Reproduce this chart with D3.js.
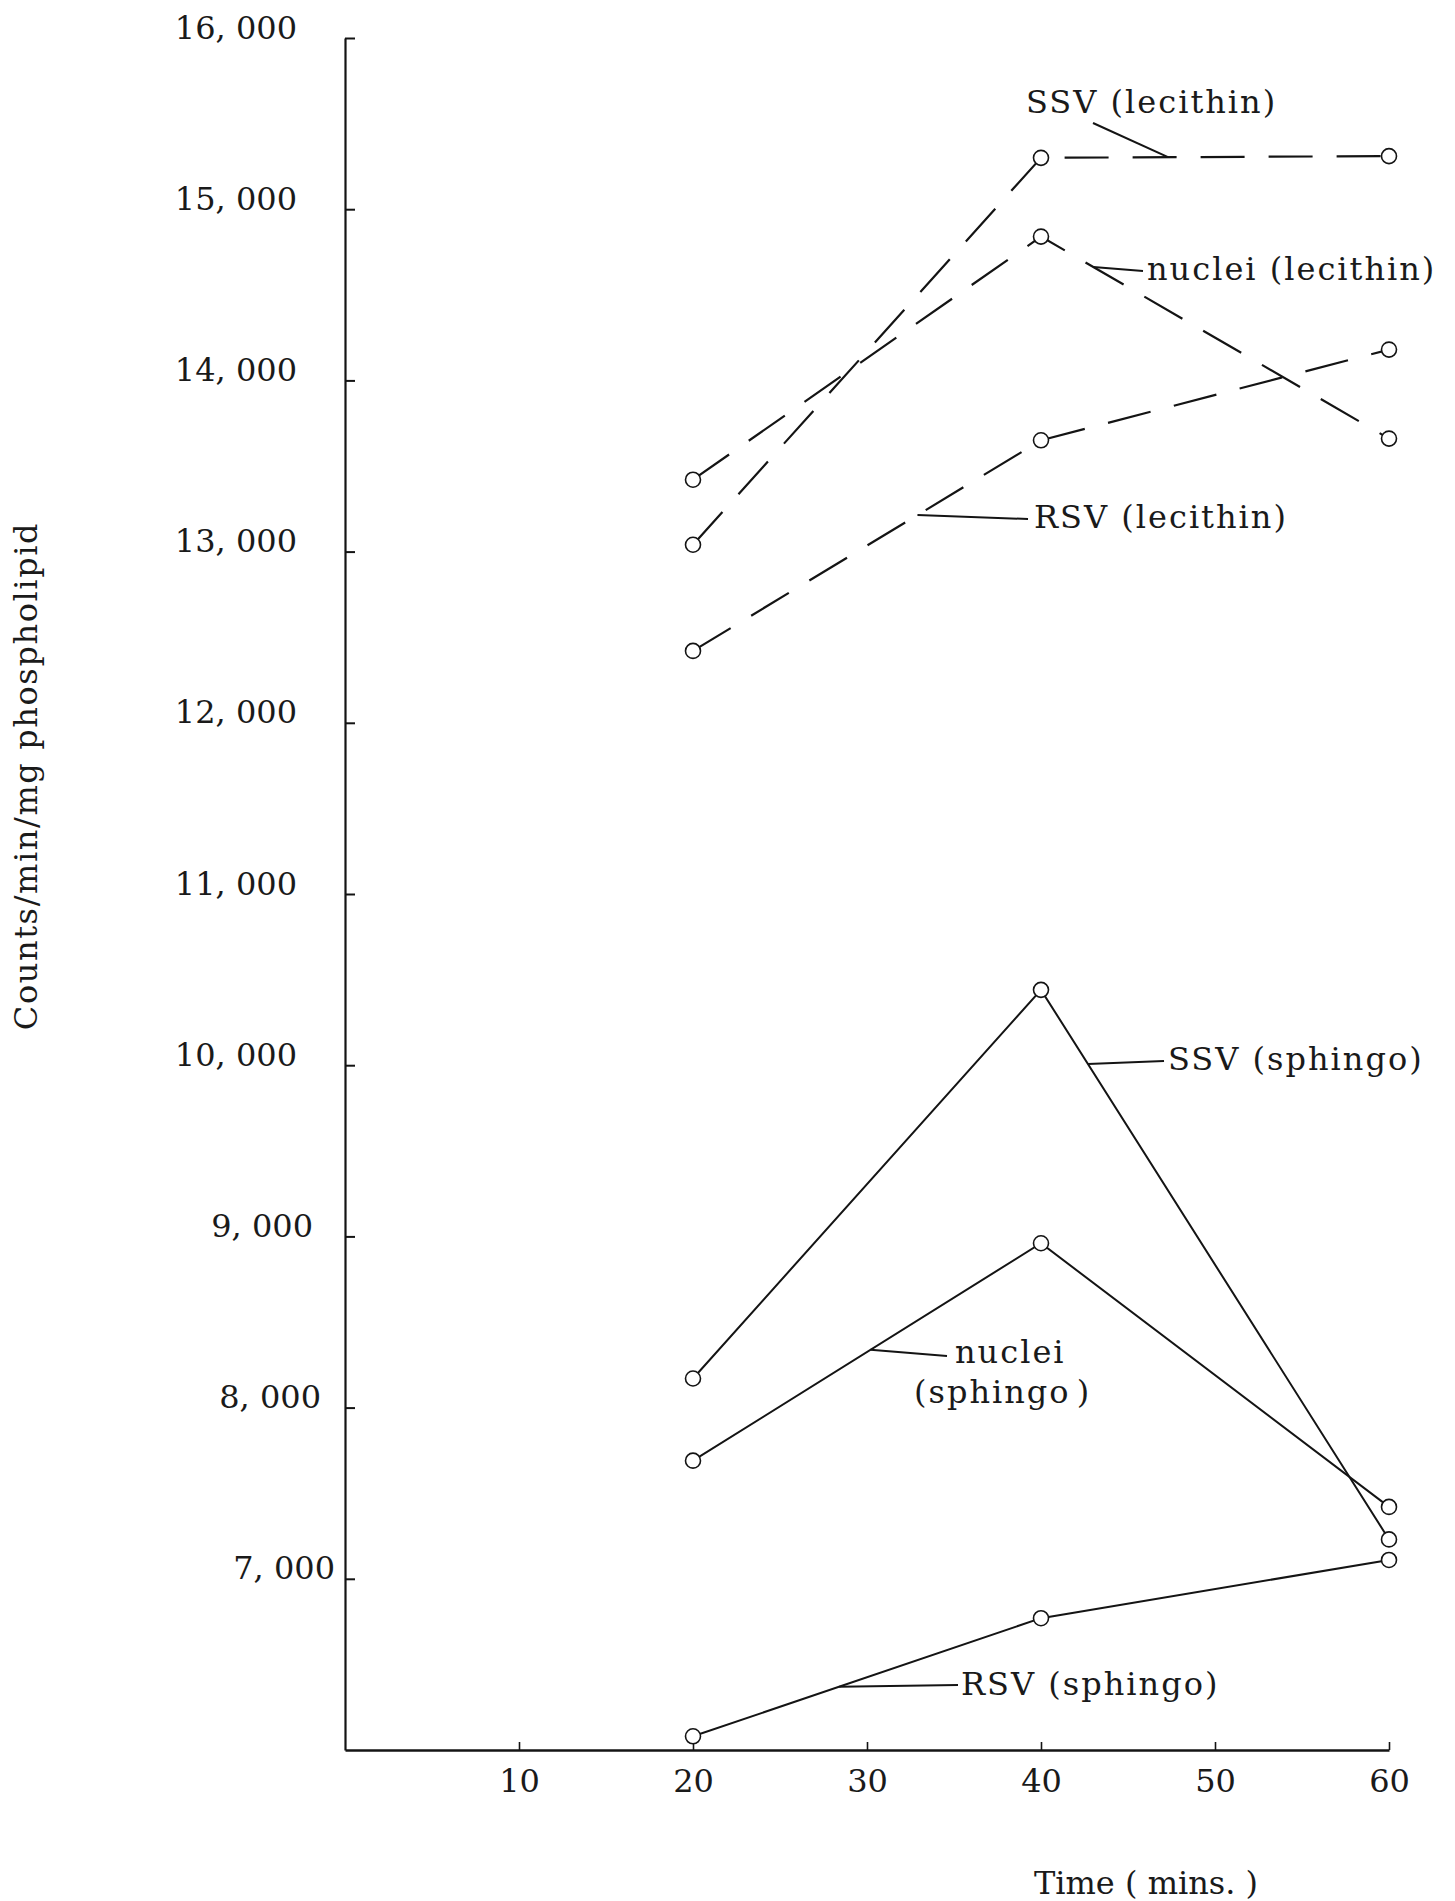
<!DOCTYPE html>
<html>
<head>
<meta charset="utf-8">
<script src="https://cdn.jsdelivr.net/npm/d3@7/dist/d3.min.js"></script>
<style>
  html, body { margin: 0; padding: 0; background: #fff; }
  svg { display: block; }
  .tick text { font-family: "DejaVu Serif", serif; font-size: 32px; fill: #1a1a1a; }
  .note { font-family: "DejaVu Serif", serif; font-size: 32px; letter-spacing: 2px; fill: #1a1a1a; }
  .title { font-family: "DejaVu Serif", serif; font-size: 32px; fill: #1a1a1a; }
</style>
</head>
<body>
<script>
// Sampling times (minutes)
const times = [20, 40, 60];

// Counts/min/mg phospholipid for each fraction
const ssvLecithin    = [13040, 15300, 15310];
const nucleiLecithin = [13420, 14840, 13660];
const rsvLecithin    = [12420, 13650, 14180];
const ssvSphingo     = [8170, 10440, 7230];
const nucleiSphingo  = [7690, 8960, 7420];
const rsvSphingo     = [6080, 6770, 7110];

// Axis ticks
const xTicks = [10, 20, 30, 40, 50, 60];
const yTicks = [7000, 8000, 9000, 10000, 11000, 12000, 13000, 14000, 15000, 16000];

const series = [
  { name: "SSV (lecithin)",    values: ssvLecithin,    dashed: true },
  { name: "nuclei (lecithin)", values: nucleiLecithin, dashed: true },
  { name: "RSV (lecithin)",    values: rsvLecithin,    dashed: true },
  { name: "SSV (sphingo)",     values: ssvSphingo,     dashed: false },
  { name: "nuclei (sphingo)",  values: nucleiSphingo,  dashed: false },
  { name: "RSV (sphingo)",     values: rsvSphingo,     dashed: false }
];

// Label placement: leader starts on the series at time `at`
const notes = [
  { idx: 0, at: 47.3, lines: ["SSV (lecithin)"],     tx: 1026, ty: 113,  ex: 1093, ey: 123 },
  { idx: 1, at: 43.0, lines: ["nuclei (lecithin)"],  tx: 1147, ty: 280,  ex: 1143, ey: 271 },
  { idx: 2, at: 32.9, lines: ["RSV (lecithin)"],     tx: 1034, ty: 528,  ex: 1028, ey: 519 },
  { idx: 3, at: 42.7, lines: ["SSV (sphingo)"],      tx: 1168, ty: 1070, ex: 1164, ey: 1061 },
  { idx: 4, at: 30.2, lines: ["nuclei", "(sphingo )"], tx: 955, ty: 1363, ex: 947, ey: 1356, second: 914 },
  { idx: 5, at: 28.4, lines: ["RSV (sphingo)"],      tx: 961,  ty: 1695, ex: 958,  ey: 1685 }
];

const W = 1455, H = 1901;
const svg = d3.select("body").append("svg").attr("width", W).attr("height", H);
svg.append("rect").attr("width", W).attr("height", H).attr("fill", "#fff");

const x = d3.scaleLinear().domain([0, 60]).range([345, 1389]);
const y = d3.scaleLinear().domain([6000, 16000]).range([1750, 38]);

const ink = "#141414";

// Y axis with inward ticks, labels typed to the left
const yAxis = svg.append("g")
  .attr("transform", `translate(${x(0)},0)`)
  .call(d3.axisLeft(y).tickValues(yTicks).tickSize(-10).tickSizeOuter(0).tickPadding(48)
    .tickFormat(d => d3.format(",")(d).replace(",", ", ")));
yAxis.select(".domain").attr("stroke", ink).attr("stroke-width", 2.2);
yAxis.selectAll(".tick line").attr("stroke", ink).attr("stroke-width", 2);
yAxis.selectAll(".tick text")
  .attr("dy", "0.0em")
  .attr("x", d => d === 7000 ? -10 : d === 8000 ? -24 : d === 9000 ? -32 : -48);

// X axis with short upward ticks
const xAxis = svg.append("g")
  .attr("transform", `translate(0,${y(6000)})`)
  .call(d3.axisBottom(x).tickValues(xTicks).tickSize(-8).tickSizeOuter(0).tickPadding(19)
    .tickFormat(d3.format("d")));
xAxis.select(".domain").attr("stroke", ink).attr("stroke-width", 2.6);
xAxis.selectAll(".tick line").attr("stroke", ink).attr("stroke-width", 1.6);

// Axis titles
svg.append("text").attr("class", "title")
  .attr("transform", `translate(37,776) rotate(-90)`)
  .attr("text-anchor", "middle").style("letter-spacing", "1.6px")
  .text("Counts/min/mg phospholipid");
svg.append("text").attr("class", "title")
  .attr("x", 1146).attr("y", 1894).attr("text-anchor", "middle")
  .text("Time ( mins. )");

// Series lines
const line = d3.line().x(d => x(d[0])).y(d => y(d[1]));
const plot = svg.append("g");
series.forEach(s => {
  const pts = times.map((t, i) => [t, s.values[i]]);
  plot.append("path")
    .attr("d", line(pts))
    .attr("fill", "none")
    .attr("stroke", ink)
    .attr("stroke-width", s.dashed ? 2.2 : 2)
    .attr("stroke-dasharray", s.dashed ? "44,24" : null);
});

// Leader lines and labels
notes.forEach(n => {
  const s = series[n.idx];
  const v = d3.scaleLinear().domain(times).range(s.values)(n.at);
  plot.append("line")
    .attr("x1", x(n.at)).attr("y1", y(v))
    .attr("x2", n.ex).attr("y2", n.ey)
    .attr("stroke", ink).attr("stroke-width", 2);
  svg.append("text").attr("class", "note")
    .attr("x", n.tx).attr("y", n.ty).text(n.lines[0]);
  if (n.lines[1]) {
    svg.append("text").attr("class", "note")
      .attr("x", n.second).attr("y", n.ty + 40)
      .style("word-spacing", "-6px").text(n.lines[1]);
  }
});

// Open circle markers at each sample
series.forEach(s => {
  plot.selectAll(null)
    .data(times.map((t, i) => [t, s.values[i]]))
    .join("circle")
    .attr("cx", d => x(d[0])).attr("cy", d => y(d[1]))
    .attr("r", 7.5)
    .attr("fill", "#fff")
    .attr("stroke", ink)
    .attr("stroke-width", 1.6);
});
</script>
</body>
</html>
